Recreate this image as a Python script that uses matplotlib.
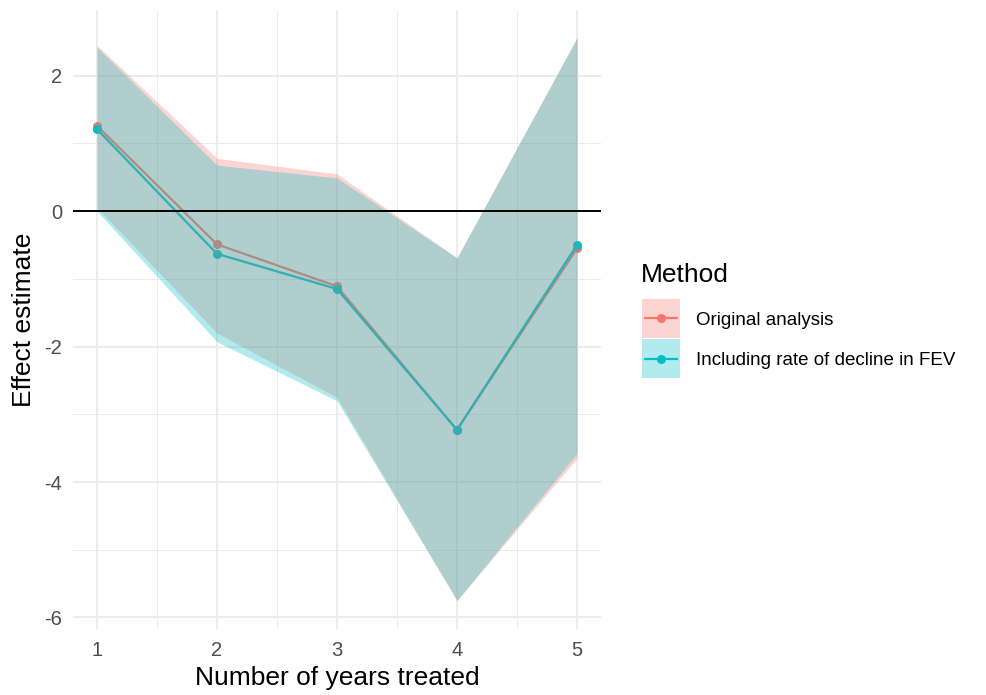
import matplotlib.pyplot as plt
from matplotlib.patches import Rectangle
from matplotlib.lines import Line2D
from matplotlib.ticker import MultipleLocator

plt.rcParams['font.family'] = ['Liberation Sans', 'DejaVu Sans']
plt.rcParams['axes.unicode_minus'] = False

# data
years = [1, 2, 3, 4, 5]
methods = ["Original analysis", "Including rate of decline in FEV"]
colors = ["#F8766D", "#00BFC4"]

orig_est = [1.26, -0.49, -1.11, -3.23, -0.55]
orig_lo = [0.05, -1.80, -2.75, -5.75, -3.65]
orig_hi = [2.45, 0.78, 0.55, -0.69, 2.56]

incl_est = [1.21, -0.63, -1.15, -3.23, -0.50]
incl_lo = [0.00, -1.93, -2.80, -5.75, -3.58]
incl_hi = [2.42, 0.68, 0.49, -0.69, 2.56]

est = [orig_est, incl_est]
lo = [orig_lo, incl_lo]
hi = [orig_hi, incl_hi]

W, H = 987, 695
fig = plt.figure(figsize=(W / 100, H / 100), dpi=100)
ax = fig.add_axes([73 / W, 1 - 629 / H, 528 / W, 619 / H])

# lines and points first, ribbons on top (as in the original)
for i in range(2):
    ax.plot(years, est[i], color=colors[i], lw=1.6, marker='o', ms=5.5,
            zorder=2)
for i in range(2):
    ax.fill_between(years, lo[i], hi[i], color=colors[i], alpha=0.3,
                    lw=0, zorder=3)

ax.axhline(0, color='black', lw=1.4, zorder=4)

ax.set_xlim(0.8, 5.2)
ax.set_ylim(-6.17, 2.97)
ax.xaxis.set_major_locator(MultipleLocator(1))
ax.xaxis.set_minor_locator(MultipleLocator(0.5))
ax.yaxis.set_major_locator(MultipleLocator(2))
ax.yaxis.set_minor_locator(MultipleLocator(1))
ax.grid(which='major', color='#ebebeb', lw=1.3, zorder=0)
ax.grid(which='minor', color='#ebebeb', lw=0.7, zorder=0)
ax.set_axisbelow(True)
for s in ax.spines.values():
    s.set_visible(False)
ax.tick_params(which='both', length=0, labelsize=14.5, labelcolor='#4d4d4d')
ax.tick_params(axis='x', pad=9)
ax.tick_params(axis='y', pad=8)
ax.set_xlabel("Number of years treated", fontsize=19, labelpad=4)
ax.set_ylabel("Effect estimate", fontsize=19, labelpad=6)

# legend, drawn by hand in figure pixels
def fx(px):
    return px / W

def fy(py):
    return 1 - py / H

fig.text(fx(641), fy(282), "Method", fontsize=19, va='baseline', ha='left')
key_tops = [299, 339]
for i in range(2):
    top = key_tops[i]
    fig.patches.append(Rectangle((fx(642), fy(top + 39)), 38 / W, 39 / H,
                                 transform=fig.transFigure,
                                 facecolor=colors[i], alpha=0.3,
                                 edgecolor='none'))
    yc = fy(top + 19.5)
    fig.lines.append(Line2D([fx(645), fx(677)], [yc, yc],
                            transform=fig.transFigure, color=colors[i],
                            lw=1.6))
    fig.lines.append(Line2D([fx(661)], [yc], transform=fig.transFigure,
                            color=colors[i], marker='o', ms=5.5))
    fig.text(fx(696), yc, methods[i], fontsize=13.5, va='center_baseline',
             ha='left')

fig.savefig("out.png", dpi=100)
